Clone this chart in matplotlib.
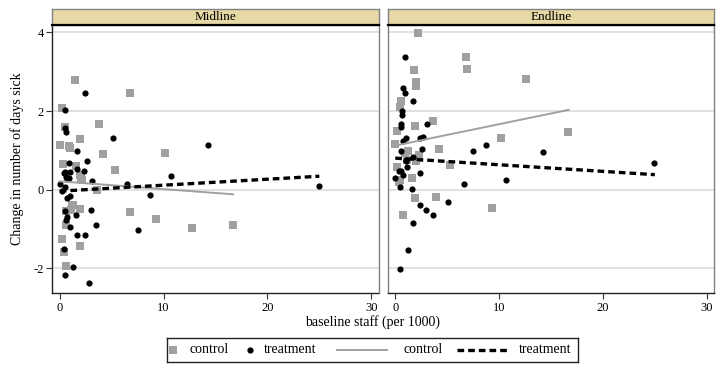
import matplotlib
matplotlib.use("Agg")
import matplotlib.pyplot as plt
import numpy as np

plt.rcParams['font.family'] = ['Liberation Serif', 'DejaVu Serif']

panels = ["Midline", "Endline"]

# Midline data
mid_ctrl_x = [1.5, 6.8, 0.2, 0.5, 0.0, 0.9, 1.0, 1.9, 3.8, 4.2, 5.3, 10.1, 0.3, 1.6, 1.9, 2.1,
              2.0, 3.6, 1.2, 1.9, 0.6, 0.6, 0.2, 1.9, 0.6, 6.8, 9.3, 12.7, 16.7, 0.4, 1.1, 1.3, 3.6]
mid_ctrl_y = [2.80, 2.47, 2.07, 1.59, 1.14, 1.10, 1.05, 1.29, 1.66, 0.90, 0.50, 0.93, 0.64, 0.61, 0.38, 0.25,
              0.30, 0.0, -0.38, -0.49, -0.55, -0.89, -1.25, -1.44, -1.95, -0.57, -0.74, -0.99, -0.90, -1.59, -0.51, -0.40, -0.02]
mid_trt_x = [2.4, 0.55, 0.55, 0.6, 5.1, 14.3, 1.7, 2.6, 0.9, 1.7, 2.3, 0.5, 1.0, 0.6, 0.9, 10.7, 3.1, 0.0,
             6.5, 25.0, 0.5, 8.7, 0.2, 1.0, 0.7, 0.5, 0.7, 0.6, 3.0, 1.6, 1.0, 3.5, 7.5, 1.7, 2.4, 0.4, 1.25, 0.5, 2.8, 0.74, 0.4]
mid_trt_y = [2.45, 2.03, 1.57, 1.47, 1.31, 1.13, 0.99, 0.72, 0.68, 0.53, 0.48, 0.46, 0.44, 0.32, 0.30, 0.34, 0.21, 0.15,
             0.15, 0.10, 0.06, -0.13, -0.03, -0.17, -0.22, -0.55, -0.69, -0.77, -0.53, -0.64, -0.96, -0.91, -1.02, -1.16, -1.16, -1.51, -1.97, -2.18, -2.37, 0.27, 0.42]

# Endline data
end_ctrl_x = [2.15, 6.8, 6.9, 12.6, 1.8, 2.0, 2.0, 0.55, 0.45, 1.9, 3.6, 0.2, 0.0, 16.6, 10.2, 4.2, 1.25, 0.93,
              2.3, 0.13, 5.3, 1.6, 2.0, 0.45, 1.9, 3.9, 9.3, 0.77, 0.4, 1.1, 2.25]
end_ctrl_y = [3.99, 3.38, 3.07, 2.82, 3.04, 2.73, 2.63, 2.26, 2.09, 1.61, 1.75, 1.50, 1.17, 1.47, 1.31, 1.04, 0.98, 0.93,
              0.89, 0.57, 0.63, 0.30, 0.72, 0.25, -0.21, -0.19, -0.47, -0.65, 0.20, 0.76, 0.80]
end_trt_x = [0.9, 0.7, 0.9, 1.7, 0.65, 0.6, 0.55, 0.58, 3.1, 1.0, 2.4, 2.7, 0.7, 8.7, 2.6, 0.55, 7.5, 14.2, 24.9,
             1.67, 1.03, 1.1, 0.52, 2.4, 0.0, 0.7, 6.6, 10.7, 0.45, 1.6, 2.4, 3.0, 3.6, 5.1, 1.74, 1.2, 0.5, 0.4, 1.06]
end_trt_y = [3.38, 2.58, 2.47, 2.25, 1.99, 1.89, 1.67, 1.60, 1.67, 1.31, 1.31, 1.33, 1.23, 1.13, 1.04, 0.99, 0.98, 0.96, 0.67,
             0.82, 0.72, 0.58, 0.47, 0.41, 0.30, 0.38, 0.15, 0.25, 0.07, 0.01, -0.38, -0.52, -0.64, -0.31, -0.85, -1.55, -2.02, 0.47, 0.76]

# Linear fit lines (endpoints at x min / x max of each group)
fit_ctrl_x = [0.0, 16.7]
fit_trt_x = [0.0, 25.0]
mid_fit_ctrl_y = [0.21, -0.12]
mid_fit_trt_y = [-0.04, 0.34]
end_fit_ctrl_y = [1.12, 2.03]
end_fit_trt_y = [0.80, 0.38]

x_ticks = [0, 10, 20, 30]
y_ticks = [-2, 0, 2, 4]
legend_labels = ["control", "treatment", "control", "treatment"]

data = {
    "Midline": (mid_ctrl_x, mid_ctrl_y, mid_trt_x, mid_trt_y, mid_fit_ctrl_y, mid_fit_trt_y),
    "Endline": (end_ctrl_x, end_ctrl_y, end_trt_x, end_trt_y, end_fit_ctrl_y, end_fit_trt_y),
}

W, H = 726, 371
fig = plt.figure(figsize=(W / 100, H / 100), dpi=100)

ctrl_color = "#a0a0a0"
trt_color = "#000000"
strip_color = "#e6d9a5"
frame_color = "#808080"
dash = (0, (2.0, 1.2))

lefts = [52, 387.5]
pw = 326.5
top_px, bot_px = 25, 292.5
strip_top = 8.5

def fx(px):
    return px / W

def fy(py):
    return 1 - py / H

for i, name in enumerate(panels):
    ax = fig.add_axes([fx(lefts[i]), fy(bot_px), pw / W, (bot_px - top_px) / H])
    cx, cy, tx, ty, fcy, fty = data[name]
    ax.set_xlim(-0.75, 30.7)
    ax.set_ylim(-2.62, 4.19)
    for yt in y_ticks:
        ax.axhline(yt, color="#dcdcdc", lw=1.2, zorder=0)
    ax.scatter(cx, cy, marker="s", s=26, color=ctrl_color, linewidths=0, zorder=2)
    ax.scatter(tx, ty, marker="o", s=20, color=trt_color, linewidths=0, zorder=3)
    ax.plot(fit_ctrl_x, fcy, color=ctrl_color, lw=1.4, zorder=4)
    ax.plot(fit_trt_x, fty, color=trt_color, lw=2.4, ls=dash, zorder=4)
    ax.set_xticks(x_ticks)
    ax.set_xticklabels([str(t) for t in x_ticks])
    ax.set_yticks(y_ticks)
    if i == 0:
        ax.set_yticklabels([str(t) for t in y_ticks])
        ax.tick_params(axis="y", length=4, width=0.8, color="#333333", labelsize=9, pad=2)
    else:
        ax.tick_params(axis="y", left=False, labelleft=False)
    ax.tick_params(axis="x", length=4, width=0.8, color="#333333", labelsize=9, pad=3)
    for side, sp in ax.spines.items():
        sp.set_color(frame_color)
        sp.set_linewidth(1.0)
    ax.spines["bottom"].set_color("#222222")
    if i == 0:
        ax.spines["left"].set_color("#222222")
    ax.set_facecolor("white")
    # strip
    sax = fig.add_axes([fx(lefts[i]), fy(top_px), pw / W, (top_px - strip_top) / H])
    sax.set_facecolor(strip_color)
    sax.set_xticks([])
    sax.set_yticks([])
    for side, sp in sax.spines.items():
        sp.set_color(frame_color)
        sp.set_linewidth(1.0)
    sax.spines["bottom"].set_color("black")
    sax.spines["bottom"].set_linewidth(1.6)
    sax.text(0.5, 0.5, name, ha="center", va="center", fontsize=9.5, transform=sax.transAxes)

fig.text(fx(17), fy(159), "Change in number of days sick", rotation=90,
         ha="center", va="center", fontsize=10)
fig.text(fx(373), fy(322), "baseline staff (per 1000)", ha="center", va="center", fontsize=10)

# Legend drawn in its own small axes (pixel units inside the box)
lx0, lx1, ly0, ly1 = 167, 578, 337.5, 361.5
lax = fig.add_axes([fx(lx0), fy(ly1), (lx1 - lx0) / W, (ly1 - ly0) / H])
lax.set_xlim(lx0, lx1)
lax.set_ylim(0, 1)
lax.set_xticks([])
lax.set_yticks([])
for sp in lax.spines.values():
    sp.set_color("#222222")
    sp.set_linewidth(1.0)
yc = 0.5
lax.plot([172.5], [yc], marker="s", color=ctrl_color, markersize=5.2, markeredgewidth=0, ls="none")
lax.plot([250], [yc], marker="o", color=trt_color, markersize=4.5, markeredgewidth=0, ls="none")
lax.plot([337, 387], [yc, yc], color=ctrl_color, lw=1.4)
lax.plot([457, 508], [yc, yc], color=trt_color, lw=2.4, ls=dash)
for xt, lab in zip([189, 264, 404, 519], legend_labels):
    lax.text(xt, yc, lab, ha="left", va="center", fontsize=10)

fig.savefig("out.png", dpi=100)
